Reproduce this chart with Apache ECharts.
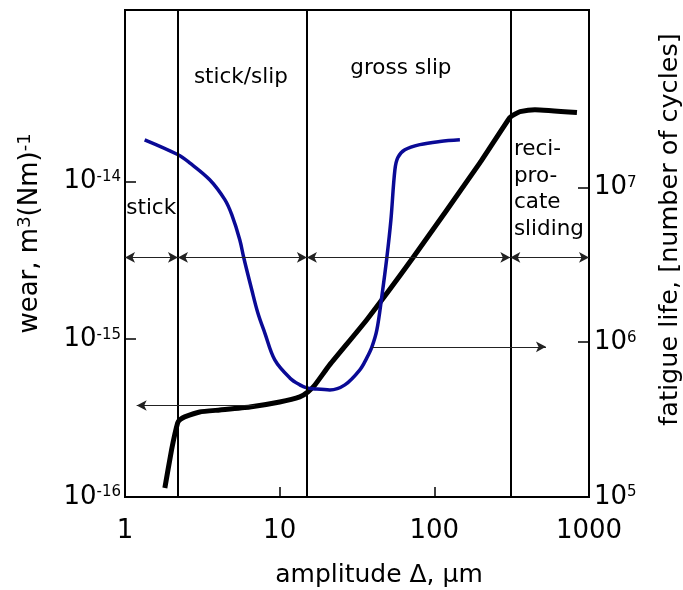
<!DOCTYPE html>
<html>
<head>
<meta charset="utf-8">
<script src="https://cdn.jsdelivr.net/npm/echarts@6/dist/echarts.min.js"></script>
<style>html,body{margin:0;padding:0;background:#fff;}#c{width:683px;height:590px;}</style>
</head>
<body>
<div id="c"></div>
<script>
// amplitude ticks and axis tick values
const ampTicks = [1, 10, 100, 1000];
const ampMinorTicks = [10, 100];
const wearTicks = [1e-16, 1e-15, 1e-14];
const lifeTicks = [1e5, 1e6, 1e7];

// wear rate curve (black, left axis)
const wearAmp = [1.81, 2.0, 2.19, 2.28, 2.43, 3.04, 4.1, 6.41, 10.0, 13.5, 15.2, 16.9, 21.1, 36.6, 72.7, 197, 308, 332, 358, 447, 836];
const wearRate = [1.14e-16, 1.99e-16, 2.95e-16, 3.1e-16, 3.22e-16, 3.46e-16, 3.56e-16, 3.72e-16, 4.0e-16, 4.31e-16, 4.63e-16, 5.13e-16, 6.9e-16, 1.33e-15, 3.28e-15, 1.31e-14, 2.54e-14, 2.67e-14, 2.77e-14, 2.85e-14, 2.73e-14];

// fatigue life curve (blue, right axis)
const lifeAmp = [1.34, 2.19, 2.62, 3.53, 4.42, 4.9, 5.52, 5.86, 6.6, 7.22, 8.01, 9.3, 11.63, 13.5, 14.98, 16.88, 21.1, 26.4, 33.0, 36.6, 39.5, 42.5, 45.8, 49.3, 52.4, 55.6, 58.1, 64.5, 80.7, 108.6, 146.3];
const fatigueLife = [2.03e7, 1.63e7, 1.44e7, 1.12e7, 8.33e6, 6.66e6, 4.59e6, 3.51e6, 2.18e6, 1.55e6, 1.15e6, 7.69e5, 5.88e5, 5.3e5, 5.07e5, 4.99e5, 4.92e5, 5.3e5, 6.63e5, 7.92e5, 9.33e5, 1.2e6, 1.99e6, 3.51e6, 6.18e6, 1.3e7, 1.56e7, 1.75e7, 1.89e7, 1.98e7, 2.03e7];

// regime boundaries (amplitude) and regime labels
const regimeBounds = [2.2, 15, 310];
const regimeEdges = [1, 2.2, 15, 310, 1000];
const regimeArrowWear = 3.3e-15;
const regimeLabels = ['stick', 'stick/slip', 'gross slip', 'reci-\npro-\ncate\nsliding'];
const regimeLabelAmp = [1.477, 5.61, 60.8, 327];
const regimeLabelWear = [6.7e-15, 4.55e-14, 5.19e-14, 8.9e-15];

// pointer arrows to axes
const wearPointer = {from: 6.9, to: 1.19, value: 3.8e-16};
const lifePointer = {from: 39.5, to: 527, value: 9.33e5};

const FONT = 'DejaVu Sans';
const supFmt = v => '{b|10}{s|' + Math.round(Math.log10(v)) + '}';
const supRich = {
  b: {fontSize: 26, fontFamily: FONT, color: '#000'},
  s: {fontSize: 15, fontFamily: FONT, color: '#000', padding: [0, 0, 9, 0]}
};

const chart = echarts.init(document.getElementById('c'), null, {renderer: 'canvas'});

const regimeLineData = regimeBounds.map(v => ({xAxis: v}));
const arrowData = [];
for (let i = 0; i < regimeEdges.length - 1; i++) {
  arrowData.push([
    {coord: [regimeEdges[i], regimeArrowWear], symbol: 'arrow'},
    {coord: [regimeEdges[i + 1], regimeArrowWear], symbol: 'arrow'}
  ]);
}
arrowData.push([
  {coord: [wearPointer.from, wearPointer.value], symbol: 'none'},
  {coord: [wearPointer.to, wearPointer.value], symbol: 'arrow'}
]);

const labelPoints = regimeLabels.map((t, i) => ({
  coord: [regimeLabelAmp[i], regimeLabelWear[i]],
  value: t,
  label: i === 3 ? {position: 'right', distance: 0, align: 'left', lineHeight: 26.5} : {position: 'inside'}
}));

const option = {
  animation: false,
  backgroundColor: '#fff',
  textStyle: {fontFamily: FONT},
  grid: {left: 125, right: 94, top: 10, bottom: 93, outerBoundsMode: 'none', containLabel: false,
         show: true, borderColor: '#000', borderWidth: 2, backgroundColor: 'transparent'},
  xAxis: {
    type: 'log', logBase: 10, min: 1, max: 1000,
    name: 'amplitude Δ, µm', nameLocation: 'middle', nameGap: 66,
    nameTextStyle: {fontSize: 25, fontFamily: FONT, color: '#000', padding: [0, 0, 0, 44]},
    axisLine: {show: true, lineStyle: {color: '#000', width: 2}},
    axisTick: {show: true, inside: true, length: 10, customValues: ampMinorTicks, lineStyle: {color: '#000', width: 1.5}},
    axisLabel: {show: true, customValues: ampTicks, fontSize: 26, fontFamily: FONT, color: '#000', margin: 21, formatter: v => String(v)},
    splitLine: {show: false}, minorTick: {show: false}
  },
  yAxis: [
    {
      type: 'log', logBase: 10, min: 1e-16, max: 1.22e-13, position: 'left',
      name: '{a|wear, m}{s|3}{a|(Nm)}{s|-1}', nameLocation: 'middle', nameGap: 80, nameRotate: 90,
      nameTextStyle: {padding: [0, 0, 0, 40], rich: {a: {fontSize: 26, fontFamily: FONT, color: '#000'}, s: {fontSize: 18, fontFamily: FONT, color: '#000', padding: [0, 0, 11, 0]}}},
      axisLine: {show: true, lineStyle: {color: '#000', width: 2}},
      axisTick: {show: true, inside: true, length: 11, customValues: wearTicks, lineStyle: {color: '#000', width: 1.5}},
      axisLabel: {show: true, customValues: wearTicks, margin: 4, formatter: supFmt, rich: supRich},
      splitLine: {show: false}, minorTick: {show: false}
    },
    {
      type: 'log', logBase: 10, min: 1e5, max: 1.399e8, position: 'right',
      name: 'fatigue life, [number of cycles]', nameLocation: 'middle', nameGap: 68, nameRotate: 90,
      nameTextStyle: {fontSize: 25.5, fontFamily: FONT, color: '#000', padding: [0, 0, 0, 48]},
      axisLine: {show: true, lineStyle: {color: '#000', width: 2}},
      axisTick: {show: true, inside: true, length: 11, customValues: lifeTicks, lineStyle: {color: '#000', width: 1.5}},
      axisLabel: {show: true, customValues: lifeTicks, margin: 5, formatter: supFmt, rich: supRich},
      splitLine: {show: false}, minorTick: {show: false}
    }
  ],
  series: [
    {
      name: 'wear', type: 'line', yAxisIndex: 0, showSymbol: false, smooth: 0.15,
      data: wearAmp.map((x, i) => [x, wearRate[i]]),
      lineStyle: {color: '#000', width: 5, join: 'round', cap: 'butt'}, itemStyle: {color: '#000'}, z: 3,
      markLine: {
        silent: true, symbol: 'none', label: {show: false},
        lineStyle: {color: '#000', width: 2, type: 'solid'},
        data: regimeLineData
      }
    },
    {
      name: 'arrows', type: 'line', yAxisIndex: 0, data: [], showSymbol: false,
      markLine: {
        silent: true, symbolSize: [8, 10], label: {show: false},
        lineStyle: {color: '#222', width: 1.2, type: 'solid'},
        data: arrowData
      },
      markPoint: {
        silent: true, symbol: 'circle', symbolSize: 0,
        label: {show: true, formatter: p => p.value, fontSize: 21.5, fontFamily: FONT, color: '#000'},
        data: labelPoints
      }
    },
    {
      name: 'fatigue', type: 'line', yAxisIndex: 1, showSymbol: false, smooth: 0.35,
      data: lifeAmp.map((x, i) => [x, fatigueLife[i]]),
      lineStyle: {color: '#0a0a96', width: 3.5, join: 'round'}, itemStyle: {color: '#0a0a96'}, z: 4,
      markLine: {
        silent: true, symbolSize: [8, 10], label: {show: false},
        lineStyle: {color: '#222', width: 1.2, type: 'solid'},
        data: [[
          {coord: [lifePointer.from, lifePointer.value], symbol: 'none'},
          {coord: [lifePointer.to, lifePointer.value], symbol: 'arrow'}
        ]]
      }
    }
  ]
};
chart.setOption(option);
</script>
</body>
</html>
